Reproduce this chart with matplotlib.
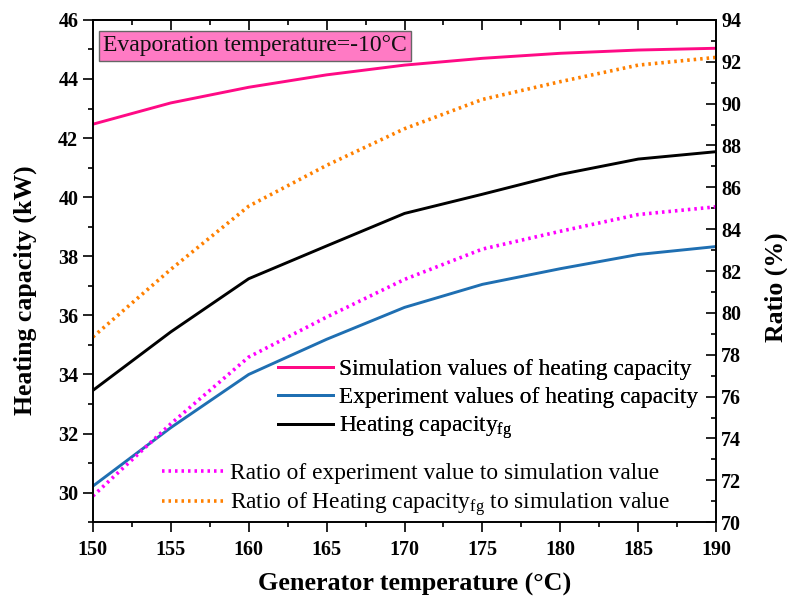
import matplotlib
matplotlib.use('Agg')
import matplotlib.pyplot as plt
from matplotlib.ticker import MultipleLocator
from matplotlib.lines import Line2D

gen_temp = [150, 155, 160, 165, 170, 175, 180, 185, 190]
sim_cap = [42.47, 43.19, 43.72, 44.14, 44.47, 44.70, 44.87, 44.98, 45.04]
exp_cap = [30.22, 32.20, 34.00, 35.19, 36.27, 37.05, 37.58, 38.06, 38.33]
fg_cap = [33.46, 35.44, 37.24, 38.35, 39.45, 40.10, 40.77, 41.29, 41.54]
ratio_exp = [71.25, 74.70, 77.89, 79.80, 81.60, 83.05, 83.90, 84.70, 85.07]
ratio_fg = [78.85, 82.08, 85.10, 87.05, 88.80, 90.20, 91.05, 91.84, 92.21]

plt.rcParams['font.family'] = 'Liberation Serif'
plt.rcParams['mathtext.fontset'] = 'custom'
plt.rcParams['mathtext.rm'] = 'Liberation Serif'

c_sim = '#ff0a85'
c_exp = '#1f6fb2'
c_fg = 'black'
c_rexp = '#ff00ff'
c_rfg = '#ff8000'
dots = (0, (0.7, 1.1))

fig = plt.figure(figsize=(7.87, 6.03), dpi=100)
ax = fig.add_axes([0.118, 0.134, 0.792, 0.833])
ax2 = ax.twinx()

ax.plot(gen_temp, sim_cap, color=c_sim, lw=2.1)
ax.plot(gen_temp, exp_cap, color=c_exp, lw=2.1)
ax.plot(gen_temp, fg_cap, color=c_fg, lw=2.1)
ax2.plot(gen_temp, ratio_exp, color=c_rexp, lw=2.6, ls=dots)
ax2.plot(gen_temp, ratio_fg, color=c_rfg, lw=2.6, ls=dots)

ax.set_xlim(150, 190)
ax.set_ylim(29, 46)
ax2.set_ylim(70, 94)

ax.xaxis.set_major_locator(MultipleLocator(5))
ax.xaxis.set_minor_locator(MultipleLocator(2.5))
ax.yaxis.set_major_locator(MultipleLocator(2))
ax.yaxis.set_minor_locator(MultipleLocator(1))
ax2.yaxis.set_major_locator(MultipleLocator(2))
ax2.yaxis.set_minor_locator(MultipleLocator(1))

ax.tick_params(which='major', direction='out', length=7, width=1.2, labelsize=14.5)
ax.tick_params(which='minor', direction='out', length=3.5, width=1.2)
ax.tick_params(axis='x', pad=6)
ax2.tick_params(which='major', direction='in', length=7, width=1.2, labelsize=14.5)
ax2.tick_params(which='minor', direction='in', length=3.5, width=1.2)

top = ax.secondary_xaxis('top')
top.xaxis.set_major_locator(MultipleLocator(5))
top.xaxis.set_minor_locator(MultipleLocator(2.5))
top.tick_params(which='major', direction='in', length=7, width=1.2, labeltop=False)
top.tick_params(which='minor', direction='in', length=3.5, width=1.2)

for a in (ax, ax2):
    for lab in a.get_xticklabels() + a.get_yticklabels():
        lab.set_fontweight('bold')
    for sp in a.spines.values():
        sp.set_linewidth(1.2)
top.spines['top'].set_linewidth(1.2)

ax.set_xlabel('Generator temperature (\u00b0C)', fontsize=18.8, fontweight='bold')
ax.xaxis.set_label_coords(0.517, -0.1)
ax.set_ylabel('Heating capacity (kW)', fontsize=18.5, fontweight='bold')
ax.yaxis.set_label_coords(-0.09, 0.462)
ax2.set_ylabel('Ratio (%)', fontsize=18.5, fontweight='bold')
ax2.yaxis.set_label_coords(1.078, 0.468)

ax.text(0.016, 0.969, 'Evaporation temperature=-10\u00b0C', transform=ax.transAxes,
        fontsize=17, va='top', ha='left', color='#111111',
        bbox=dict(boxstyle='square,pad=0.18', facecolor='#ff7ac4', edgecolor='#666666', lw=1))

h1 = [Line2D([], [], color=c_sim, lw=2.1),
      Line2D([], [], color=c_exp, lw=2.1),
      Line2D([], [], color=c_fg, lw=2.1)]
l1 = ['Simulation values of heating capacity',
      'Experiment values of heating capacity',
      'Heating capacity$_{\\mathregular{fg}}$']
leg1 = ax.legend(h1, l1, loc='center left', bbox_to_anchor=(0.297, 0.243), fontsize=16.8,
                 frameon=False, handlelength=2.36, handletextpad=0.26, labelspacing=0.28,
                 borderaxespad=0, borderpad=0)
ax.add_artist(leg1)

h2 = [Line2D([], [], color=c_rexp, lw=2.6, ls=dots),
      Line2D([], [], color=c_rfg, lw=2.6, ls=dots)]
l2 = ['Ratio of experiment value to simulation value',
      'Ratio of Heating capacity$_{\\mathregular{fg}}$ to simulation value']
leg2 = ax2.legend(h2, l2, loc='center left', bbox_to_anchor=(0.111, 0.062), fontsize=16.8,
                  frameon=False, handlelength=2.8, handletextpad=0.13, labelspacing=0.3,
                  borderaxespad=0, borderpad=0)

fig.savefig('out.png', dpi=100)
